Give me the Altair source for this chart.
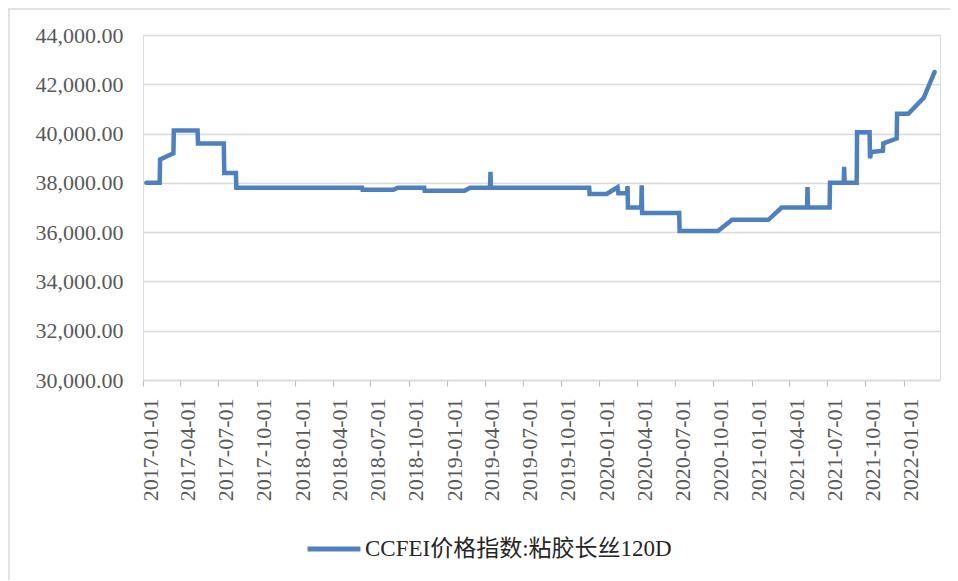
import altair as alt
import pandas as pd

series_name = "CCFEI价格指数:粘胶长丝120D"

dates = [
    "2017-01-09", "2017-02-10", "2017-02-11", "2017-03-15", "2017-03-16",
    "2017-05-12", "2017-05-13", "2017-07-14", "2017-07-15", "2017-08-12",
    "2017-08-13", "2018-06-11", "2018-06-12", "2018-08-25", "2018-09-05",
    "2018-11-07", "2018-11-08", "2019-02-12", "2019-02-25", "2019-04-14",
    "2019-04-15", "2019-04-16", "2019-12-08", "2019-12-09", "2020-01-19",
    "2020-02-14", "2020-02-16", "2020-03-08", "2020-03-09", "2020-03-10",
    "2020-04-11", "2020-04-12", "2020-04-13", "2020-07-11", "2020-07-12",
    "2020-10-12", "2020-11-15", "2021-02-10", "2021-03-14", "2021-05-14",
    "2021-05-15", "2021-05-16", "2021-07-07", "2021-07-08", "2021-08-10",
    "2021-08-11", "2021-08-12", "2021-09-10", "2021-09-11", "2021-10-11",
    "2021-10-12", "2021-10-15", "2021-11-12", "2021-11-13", "2021-12-15",
    "2021-12-16", "2022-01-12", "2022-02-18", "2022-03-16",
]
values = [
    38000, 38000, 38950, 39200, 40120,
    40120, 39600, 39600, 38400, 38400,
    37800, 37800, 37720, 37720, 37800,
    37800, 37680, 37680, 37800, 37800,
    38450, 37800, 37800, 37550, 37550,
    37820, 37580, 37580, 37870, 37000,
    37000, 37900, 36780, 36780, 36050,
    36050, 36500, 36500, 37000, 37000,
    37830, 37000, 37000, 38000, 38000,
    38650, 38000, 38000, 40050, 40050,
    39000, 39250, 39300, 39600, 39800,
    40800, 40800, 41450, 42500,
]

y_ticks = [30000, 32000, 34000, 36000, 38000, 40000, 42000, 44000]
x_ticks = [
    "2017-01-01", "2017-04-01", "2017-07-01", "2017-10-01",
    "2018-01-01", "2018-04-01", "2018-07-01", "2018-10-01",
    "2019-01-01", "2019-04-01", "2019-07-01", "2019-10-01",
    "2020-01-01", "2020-04-01", "2020-07-01", "2020-10-01",
    "2021-01-01", "2021-04-01", "2021-07-01", "2021-10-01",
    "2022-01-01",
]
x_domain = ["2017-01-01", "2022-03-29"]


def dt(s):
    y, m, d = (int(p) for p in s.split("-"))
    return alt.DateTime(year=y, month=m, date=d, utc=True)


df = pd.DataFrame({"date": dates, "value": values, "series": series_name})

font = "Liberation Serif, Noto Sans CJK SC"
line_color = "#4e80bd"
frame_color = "#d9d9d9"

line = (
    alt.Chart(df)
    .mark_line(strokeWidth=4.5, strokeCap="round", strokeJoin="miter")
    .encode(
        x=alt.X(
            "date:T",
            scale=alt.Scale(type="utc", domain=[dt(x_domain[0]), dt(x_domain[1])], nice=False),
            axis=alt.Axis(
                title=None,
                values=[dt(s) for s in x_ticks],
                labelExpr="utcFormat(datum.value, '%Y-%m-%d')",
                labelAngle=270,
                labelAlign="right",
                labelBaseline="middle",
                labelOffset=7,
                labelPadding=12,
                labelFont=font,
                labelFontSize=22,
                labelColor="#595959",
                labelOverlap=False,
                labelFlush=False,
                grid=False,
                domainColor="#d9d9d9",
                domainWidth=1.5,
                tickColor="#bfbfbf",
                tickSize=6,
                tickWidth=1.2,
            ),
        ),
        y=alt.Y(
            "value:Q",
            scale=alt.Scale(domain=[30000, 44000], nice=False, zero=False),
            axis=alt.Axis(
                title=None,
                values=y_ticks,
                format=",.2f",
                labelFont=font,
                labelFontSize=22,
                labelColor="#595959",
                labelPadding=20,
                domain=False,
                ticks=False,
                grid=True,
                gridColor="#d9d9d9",
                gridWidth=1.5,
            ),
        ),
        color=alt.Color(
            "series:N",
            scale=alt.Scale(domain=[series_name], range=[line_color]),
            legend=alt.Legend(
                title=None,
                orient="none",
                legendX=162,
                legendY=485,
                symbolType="stroke",
                symbolSize=2800,
                symbolStrokeWidth=5,
                labelFont=font,
                labelFontSize=23,
                labelColor="#262626",
                labelLimit=0,
                labelOffset=2,
                padding=0,
            ),
        ),
    )
)

frame_df = pd.DataFrame({"k": [0]})
frame_top = alt.Chart(frame_df).mark_rule(color=frame_color, strokeWidth=1.5).encode(
    x=alt.value(-135), x2=alt.value(807), y=alt.value(-26)
)
frame_left = alt.Chart(frame_df).mark_rule(color=frame_color, strokeWidth=1.5).encode(
    x=alt.value(-134), y=alt.value(-26), y2=alt.value(546)
)

chart = (
    alt.layer(line, frame_top, frame_left)
    .properties(
        width=797,
        height=345,
        autosize=alt.AutoSizeParams(type="none"),
        padding={"left": 135, "top": 27, "right": 10, "bottom": 200},
    )
    .configure_view(stroke=None)
    .configure(background="white")
)

chart.save("out.html", embed_options={"renderer": "svg", "actions": False})
